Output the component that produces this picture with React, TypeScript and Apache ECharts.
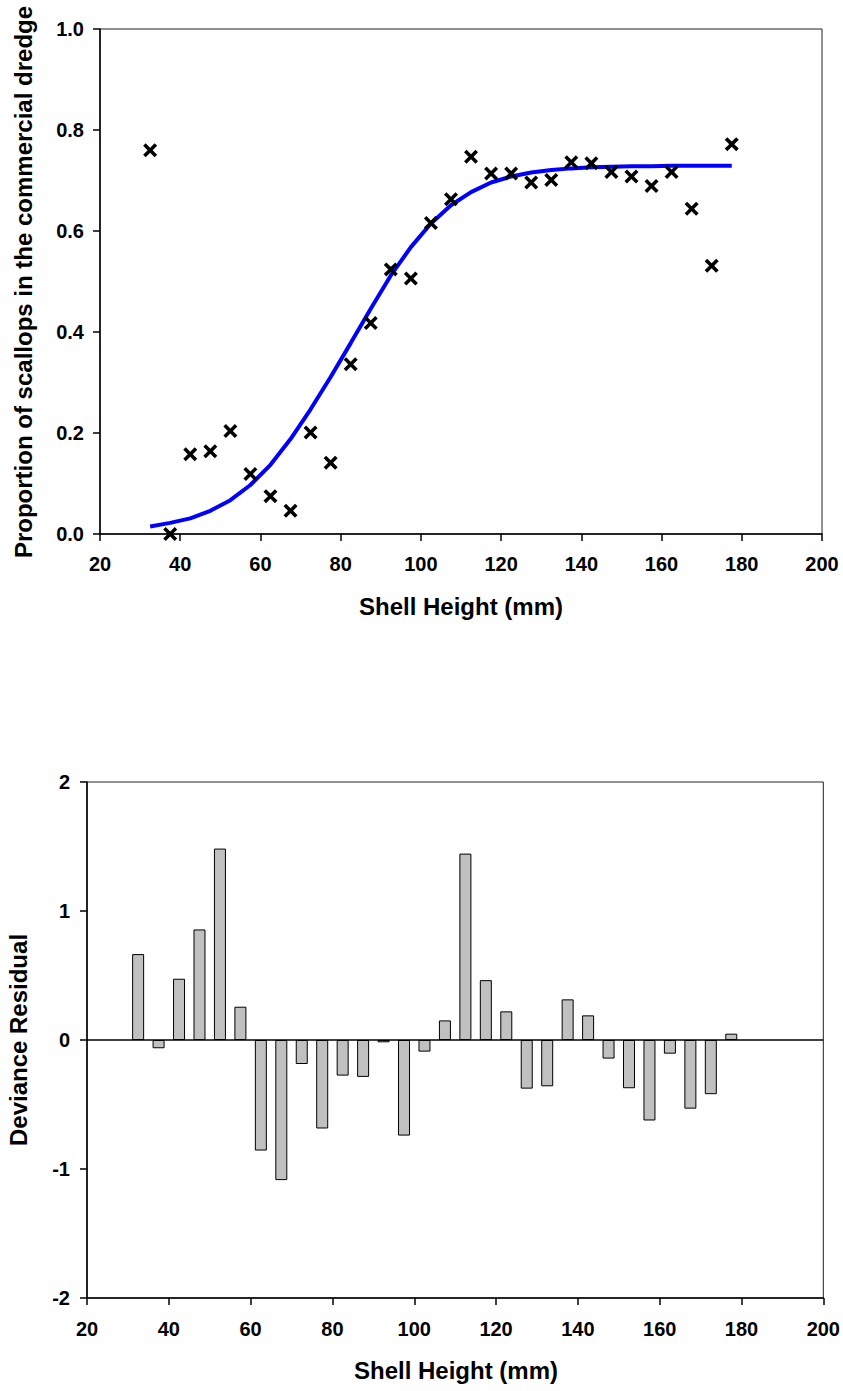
import React, { useEffect, useRef } from "react";
import * as echarts from "echarts";

// Shell height class midpoints (mm)
const shellHeights = [
  32.5, 37.5, 42.5, 47.5, 52.5, 57.5, 62.5, 67.5, 72.5, 77.5,
  82.5, 87.5, 92.5, 97.5, 102.5, 107.5, 112.5, 117.5, 122.5, 127.5,
  132.5, 137.5, 142.5, 147.5, 152.5, 157.5, 162.5, 167.5, 172.5, 177.5,
];

// Observed proportion retained in the commercial dredge
const observedProportion = [
  0.760, 0.000, 0.158, 0.164, 0.204, 0.119, 0.075, 0.046, 0.201, 0.141,
  0.336, 0.418, 0.524, 0.506, 0.616, 0.663, 0.747, 0.714, 0.714, 0.696,
  0.701, 0.736, 0.734, 0.717, 0.708, 0.689, 0.717, 0.644, 0.531, 0.772,
];

// Fitted selectivity curve
const fittedProportion = [
  0.015, 0.022, 0.031, 0.046, 0.067, 0.097, 0.137, 0.188, 0.247, 0.311,
  0.378, 0.446, 0.512, 0.568, 0.615, 0.651, 0.677, 0.696, 0.708, 0.716,
  0.721, 0.724, 0.726, 0.727, 0.728, 0.728, 0.729, 0.729, 0.729, 0.729,
];

// Deviance residuals
const devianceResidual = [
  0.666, -0.064, 0.475, 0.857, 1.484, 0.258, -0.857, -1.086, -0.186, -0.686,
  -0.276, -0.286, -0.018, -0.741, -0.090, 0.152, 1.445, 0.464, 0.222, -0.377,
  -0.359, 0.315, 0.191, -0.144, -0.374, -0.624, -0.106, -0.532, -0.420, 0.049,
];

const xTitle = "Shell Height (mm)";
const yTitleTop = "Proportion of scallops in the commercial dredge";
const yTitleBottom = "Deviance Residual";

const FONT = "'Liberation Sans', Arial, sans-serif";

const crossPath =
  "path://M0,1.8 L1.8,0 L5,3.2 L8.2,0 L10,1.8 L6.8,5 L10,8.2 L8.2,10 L5,6.8 L1.8,10 L0,8.2 L3.2,5 Z";

export default function App() {
  const ref = useRef<HTMLDivElement>(null);

  useEffect(() => {
    if (!ref.current) return;
    const chart = echarts.init(ref.current, undefined, { renderer: "svg" });

    const axisCommon = {
      axisLine: { show: true, onZero: false, lineStyle: { color: "#000", width: 1.5 } },
      axisTick: { show: true, inside: false, length: 7, lineStyle: { color: "#000", width: 1.5 } },
      splitLine: { show: false },
    };
    const labelStyle = {
      color: "#000",
      fontFamily: FONT,
      fontWeight: "bold" as const,
      fontSize: 20,
    };
    const titleStyle = {
      fill: "#000",
      font: `bold 24px ${FONT}`,
      textAlign: "center" as const,
      textVerticalAlign: "middle" as const,
    };

    const option: any = {
      animation: false,
      backgroundColor: "#fff",
      grid: [
        { left: 100, top: 29, width: 722, height: 505, show: true, borderColor: "#222", borderWidth: 1, backgroundColor: "transparent" },
        { left: 87, top: 782, width: 738, height: 516, show: true, borderColor: "#222", borderWidth: 1, backgroundColor: "transparent" },
      ],
      xAxis: [
        {
          type: "value", gridIndex: 0, min: 20, max: 200, interval: 20,
          ...axisCommon,
          axisLabel: { ...labelStyle, margin: 20 },
        },
        {
          type: "value", gridIndex: 1, min: 20, max: 200, interval: 20,
          ...axisCommon,
          axisLabel: { ...labelStyle, margin: 21 },
        },
      ],
      yAxis: [
        {
          type: "value", gridIndex: 0, min: 0, max: 1, interval: 0.2,
          ...axisCommon,
          axisLabel: { ...labelStyle, margin: 16, formatter: (v: number) => v.toFixed(1) },
        },
        {
          type: "value", gridIndex: 1, min: -2, max: 2, interval: 1,
          ...axisCommon,
          axisLabel: { ...labelStyle, margin: 17 },
        },
      ],
      series: [
        {
          type: "line",
          xAxisIndex: 0, yAxisIndex: 0,
          data: shellHeights.map((x, i) => [x, fittedProportion[i]]),
          showSymbol: false,
          symbol: "none",
          lineStyle: { color: "#0000FF", width: 4 },
          z: 2,
        },
        {
          type: "scatter",
          xAxisIndex: 0, yAxisIndex: 0,
          data: shellHeights.map((x, i) => [x, observedProportion[i]]),
          symbol: crossPath,
          symbolSize: 14,
          itemStyle: { color: "#000", opacity: 1 },
          z: 3,
        },
        {
          type: "bar",
          xAxisIndex: 1, yAxisIndex: 1,
          data: shellHeights.map((x, i) => [x, devianceResidual[i]]),
          barWidth: 12,
          itemStyle: { color: "#C0C0C0", borderColor: "#000", borderWidth: 1 },
          markLine: {
            silent: true,
            symbol: "none",
            label: { show: false },
            lineStyle: { color: "#000", width: 1.5, type: "solid" },
            data: [{ yAxis: 0 }],
          },
        },
      ],
      graphic: [
        { type: "text", x: 461, y: 606, style: { ...titleStyle, text: xTitle } },
        { type: "text", x: 456, y: 1370, style: { ...titleStyle, text: xTitle } },
        { type: "text", x: 23.5, y: 282, rotation: Math.PI / 2, style: { ...titleStyle, text: yTitleTop } },
        { type: "text", x: 18.5, y: 1040, rotation: Math.PI / 2, style: { ...titleStyle, text: yTitleBottom } },
      ],
    };

    chart.setOption(option);
    return () => chart.dispose();
  }, []);

  return (
    <div
      ref={ref}
      style={{ position: "absolute", left: 0, top: 0, width: 843, height: 1391, background: "#fff" }}
    />
  );
}
